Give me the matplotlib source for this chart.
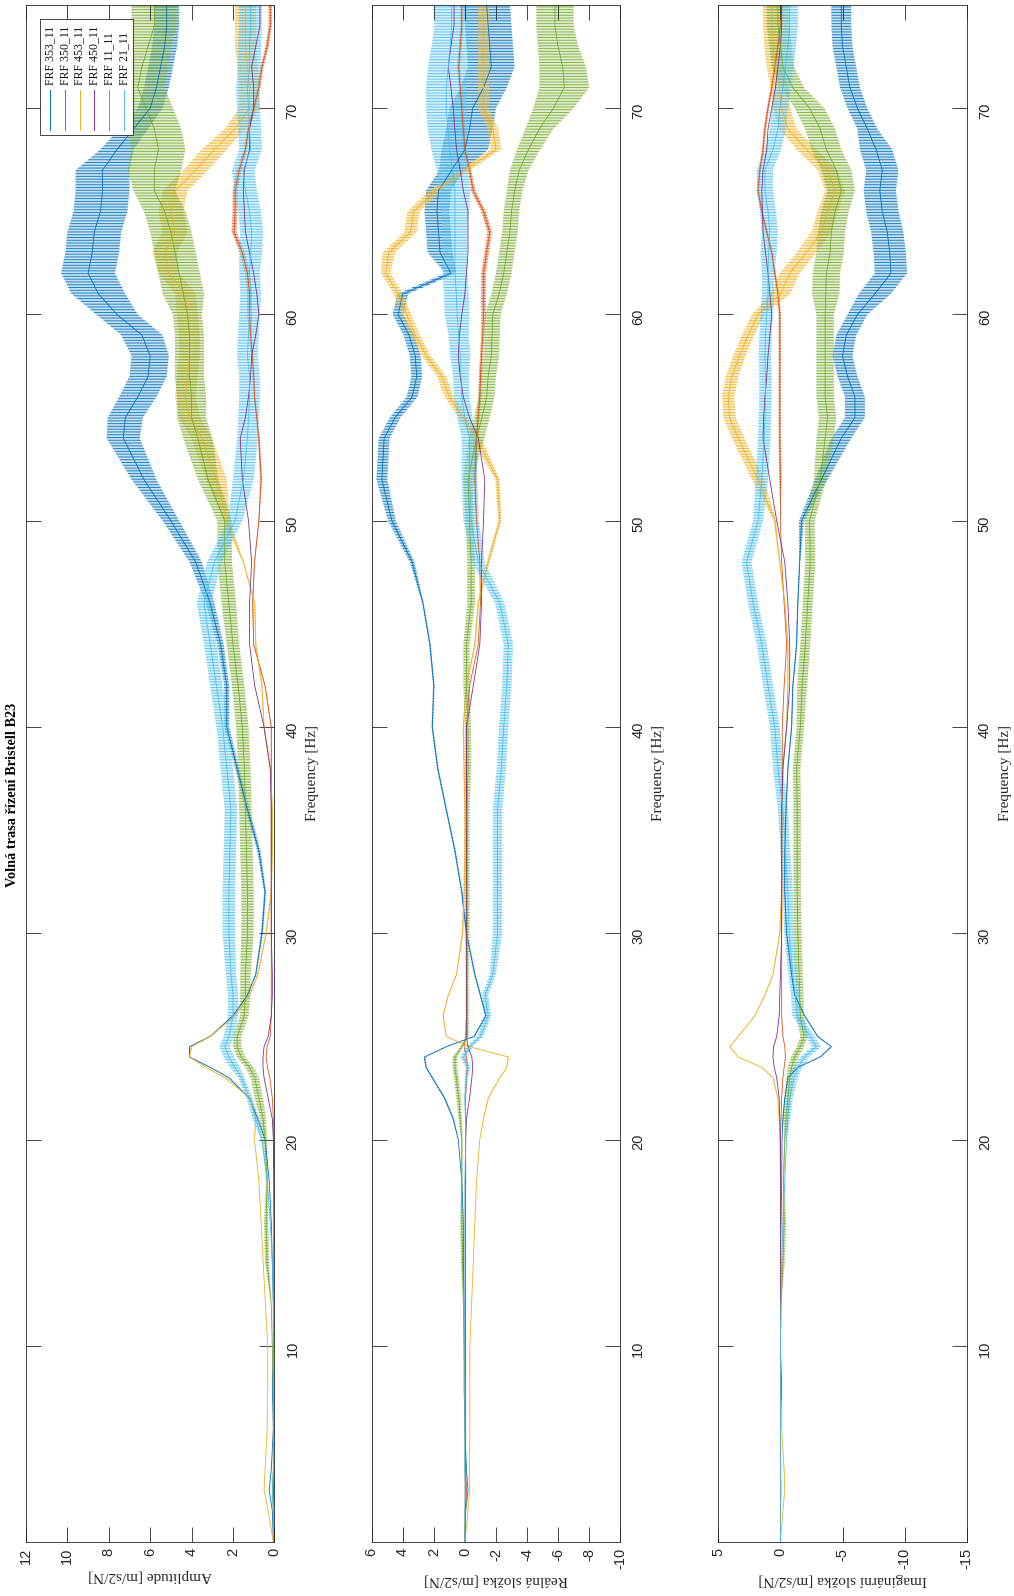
import numpy as np
import matplotlib
matplotlib.use("Agg")
import matplotlib.pyplot as plt
from matplotlib.colors import to_rgba
from matplotlib.patches import Rectangle

plt.rcParams["axes.unicode_minus"] = False
plt.rcParams["hatch.linewidth"] = 0.7

# ---------------------------------------------------------------- data
freq = [0.5, 2, 3, 4, 6, 8, 10, 12, 14, 16, 18, 20,
        21, 22, 23, 23.5, 24, 24.5, 25, 26, 27, 28,
        30, 32, 34, 36, 38, 40, 42, 44, 46, 48, 50,
        52, 54, 55, 56, 57, 58, 59, 60, 61, 62, 63, 64, 65, 66, 67, 68, 69, 70, 71, 72, 73, 74, 75]

series_names = ["FRF 353_11", "FRF 350_11", "FRF 453_11", "FRF 450_11", "FRF 11_11", "FRF 21_11"]
series_colors = ["#0072BD", "#D95319", "#EDB120", "#7E2F8E", "#77AC30", "#4DBEEE"]

# amplitude [m/s2/N]
amp_353 = [0.05, 0.1, 0.25, 0.15, 0.05, 0.1, 0.05, 0.05, 0.1, 0.15, 0.25, 0.45,
           0.8, 1.2, 2.2, 3.1, 4.1, 4.1, 3.1, 2.0, 1.3, 0.9,
           0.6, 0.45, 0.75, 1.3, 1.8, 2.3, 2.3, 2.6, 3.1, 3.8, 5.0,
           6.3, 7.3, 7.2, 6.6, 6.1, 6.0, 6.4, 7.6, 8.5, 9.0, 8.8, 8.7, 8.4, 8.3, 8.3, 7.6, 6.8, 6.0, 5.7, 5.5, 5.3, 5.2, 5.2]
amp_350 = [0.02, 0.02, 0.03, 0.02, 0.02, 0.02, 0.02, 0.02, 0.02, 0.02, 0.02, 0.03,
           0.05, 0.1, 0.22, 0.33, 0.4, 0.35, 0.2, 0.15, 0.15, 0.15,
           0.15, 0.15, 0.15, 0.15, 0.15, 0.15, 0.45, 1.0, 1.05, 0.96, 0.75,
           0.64, 0.75, 0.85, 0.96, 1.0, 1.07, 1.15, 1.2, 1.2, 1.3, 1.55, 1.95, 1.9, 1.9, 1.7, 1.4, 1.25, 1.0, 0.75, 0.6, 0.35, 0.2, 0.2]
amp_453 = [0.05, 0.3, 0.5, 0.45, 0.35, 0.32, 0.32, 0.43, 0.54, 0.64, 0.75, 0.96,
           0.9, 1.15, 2.4, 3.3, 4.1, 4.0, 3.1, 1.9, 1.2, 0.8,
           0.4, 0.15, 0.1, 0.1, 0.2, 0.5, 0.6, 0.9, 0.95, 1.5, 2.3,
           2.8, 3.5, 4.1, 4.3, 4.2, 4.1, 4.1, 4.2, 4.3, 5.1, 5.3, 4.8, 5.0, 4.8, 3.8, 2.9, 1.9, 1.2, 1.2, 1.3, 1.4, 1.4, 1.4]
amp_450 = [0.02, 0.02, 0.03, 0.02, 0.02, 0.02, 0.02, 0.02, 0.02, 0.02, 0.03, 0.05,
           0.1, 0.3, 0.5, 0.55, 0.55, 0.5, 0.3, 0.15, 0.1, 0.1,
           0.15, 0.15, 0.15, 0.15, 0.2, 0.5, 0.95, 1.2, 1.2, 1.1, 1.25,
           1.55, 1.65, 1.4, 1.25, 1.15, 1.1, 0.9, 0.75, 0.85, 1.0, 1.2, 1.4, 1.45, 1.5, 1.45, 1.2, 1.2, 1.0, 1.0, 1.1, 0.9, 0.7, 0.7]
amp_11 = [0.02, 0.05, 0.1, 0.05, 0.05, 0.05, 0.1, 0.15, 0.35, 0.4, 0.35, 0.45,
          0.55, 0.75, 0.95, 1.2, 1.6, 1.8, 1.8, 1.45, 1.4, 1.4,
          1.3, 1.3, 1.35, 1.4, 1.45, 1.55, 1.75, 2.0, 2.2, 2.4, 2.4,
          3.2, 3.7, 4.0, 4.0, 4.1, 4.1, 4.1, 4.2, 4.4, 4.6, 4.8, 5.0, 5.3, 5.8, 5.8, 5.6, 5.8, 6.2, 6.6, 6.4, 6.1, 5.8, 5.8]
amp_21 = [0.02, 0.05, 0.1, 0.05, 0.05, 0.05, 0.05, 0.05, 0.1, 0.2, 0.35, 0.6,
          0.9, 1.2, 1.6, 1.9, 2.2, 2.4, 2.2, 2.0, 2.0, 2.1,
          2.2, 2.2, 2.15, 2.1, 2.3, 2.5, 2.8, 3.1, 3.4, 2.9, 1.9,
          1.5, 1.3, 1.25, 1.2, 1.2, 1.3, 1.25, 1.2, 1.15, 1.2, 1.15, 1.1, 1.2, 1.4, 1.5, 1.15, 1.2, 1.25, 1.3, 1.2, 1.2, 1.15, 1.15]

# real part [m/s2/N]
re_353 = [0.0, -0.05, -0.2, -0.1, 0.0, 0.05, 0.05, 0.05, 0.1, 0.1, 0.2, 0.43,
          0.75, 1.3, 2.1, 2.5, 2.6, 1.2, -0.6, -1.35, -1.0, -0.64,
          -0.1, 0.2, 0.64, 1.2, 1.75, 2.1, 2.0, 2.25, 2.7, 3.4, 4.7,
          5.35, 5.2, 4.5, 3.4, 3.1, 3.2, 3.6, 4.3, 4.0, 0.9, 1.6, 1.7, 1.8, 1.7, 0.85, 0.0, -0.3, -0.5, -1.2, -1.7, -1.6, -1.5, -1.4]
re_350 = [0.0, -0.05, -0.1, -0.05, -0.03, -0.03, -0.03, -0.03, -0.03, -0.03, -0.03, -0.05,
          -0.05, -0.05, -0.1, -0.15, -0.1, 0.05, -0.05, -0.1, -0.1, -0.1,
          -0.1, -0.1, -0.1, -0.1, -0.1, -0.1, -0.3, -0.86, -1.0, -0.96, -0.75,
          -0.64, -0.75, -0.85, -0.96, -1.0, -1.07, -1.15, -1.2, -1.2, -1.2, -1.4, -1.6, -1.2, -0.54, -0.3, 0.0, 0.1, 0.2, 0.3, 0.4, 0.3, 0.2, 0.2]
re_453 = [0.0, -0.2, -0.3, -0.3, -0.32, -0.32, -0.32, -0.43, -0.54, -0.64, -0.75, -0.96,
          -1.2, -1.5, -2.25, -2.7, -2.8, -0.3, 1.2, 1.4, 1.07, 0.54,
          0.15, 0.05, 0.0, 0.0, 0.05, 0.1, -0.1, -0.64, -0.86, -1.5, -2.25,
          -2.1, -0.75, 0.1, 1.0, 1.5, 2.5, 3.2, 3.75, 4.3, 5.1, 4.9, 3.5, 3.3, 1.9, 0.0, -2.0, -1.8, -1.2, -1.2, -1.2, -1.2, -1.2, -1.2]
re_450 = [0.0, -0.03, -0.05, -0.03, -0.03, -0.03, -0.03, -0.03, -0.03, -0.03, -0.05, -0.05,
          -0.1, -0.3, -0.45, -0.5, -0.45, -0.2, -0.1, -0.1, -0.1, -0.1,
          -0.1, -0.1, -0.1, -0.1, -0.1, -0.1, -0.54, -0.96, -1.07, -1.07, -1.2,
          -1.28, -0.86, -0.3, 0.1, 0.3, 0.43, 0.35, 0.2, 0.0, -0.1, -0.2, -0.2, -0.2, 0.1, 0.3, 0.54, 0.65, 0.75, 0.9, 1.07, 0.9, 0.7, 0.7]
re_11 = [0.0, 0.0, -0.05, 0.0, 0.0, 0.0, 0.05, 0.1, 0.15, 0.2, 0.2, 0.2,
         0.3, 0.4, 0.55, 0.64, 0.64, 0.2, -0.15, -0.15, -0.15, -0.15,
         -0.15, -0.15, -0.15, -0.15, -0.2, -0.2, -0.1, -0.1, -0.4, -0.4, -0.3,
         -0.2, -0.75, -1.1, -1.4, -1.5, -1.7, -1.75, -1.8, -2.2, -2.5, -2.7, -2.9, -3.0, -3.2, -3.5, -4.1, -4.8, -5.7, -6.4, -6.3, -6.0, -5.8, -5.8]
re_21 = [0.0, 0.0, 0.0, 0.0, 0.0, 0.0, 0.0, 0.0, 0.0, 0.0, 0.0, -0.05,
         -0.05, 0.0, -0.1, -0.2, 0.1, -0.3, -1.0, -1.5, -1.3, -1.8,
         -2.1, -2.1, -2.1, -2.1, -2.35, -2.5, -2.7, -2.8, -2.25, -0.86, -0.4,
         -0.3, -0.3, 0.0, 0.2, 0.25, 0.3, 0.4, 0.5, 0.55, 0.64, 0.64, 0.64, 0.64, 0.64, 0.8, 0.96, 1.1, 1.2, 1.2, 1.07, 0.95, 0.86, 0.86]

# imaginary part [m/s2/N]
im_353 = [0.0, 0.0, 0.0, 0.0, 0.0, -0.1, 0.0, 0.0, 0.0, -0.05, -0.1, -0.13,
          -0.2, -0.35, -0.6, -1.4, -3.2, -4.1, -3.0, -1.95, -1.15, -0.9,
          -0.5, -0.35, -0.35, -0.45, -0.6, -0.9, -1.0, -1.3, -1.4, -1.55, -1.7,
          -3.3, -4.9, -6.0, -6.0, -5.4, -5.0, -5.3, -6.2, -7.6, -8.9, -8.8, -8.6, -8.2, -8.0, -8.2, -7.7, -7.0, -6.2, -5.6, -5.3, -5.0, -4.9, -4.9]
im_350 = [0.0, 0.0, 0.0, 0.0, 0.0, 0.0, 0.0, 0.0, 0.0, 0.0, 0.0, 0.0,
          -0.05, -0.1, -0.2, -0.3, -0.4, -0.35, -0.2, -0.1, -0.1, -0.1,
          -0.1, -0.12, -0.12, -0.12, -0.15, -0.15, -0.3, -0.5, -0.3, -0.1, 0.0,
          0.0, 0.05, 0.05, 0.05, 0.05, 0.05, 0.05, 0.05, 0.2, 0.45, 0.7, 1.1, 1.5, 1.8, 1.66, 1.4, 1.25, 1.0, 0.7, 0.45, 0.2, 0.0, -0.1]
im_453 = [0.0, -0.2, -0.35, -0.3, -0.1, 0.0, 0.0, 0.0, 0.0, 0.0, 0.0, 0.05,
          0.1, 0.2, 0.6, 1.5, 3.4, 4.07, 3.4, 2.06, 1.25, 0.6,
          0.05, -0.1, -0.1, -0.1, -0.2, -0.5, -0.6, -0.6, -0.35, 0.05, 0.45,
          1.8, 3.4, 4.1, 4.2, 3.9, 3.3, 2.6, 1.8, 0.0, -0.75, -2.1, -3.3, -3.8, -4.4, -3.8, -2.1, -0.6, -0.1, 0.1, 0.4, 0.6, 0.7, 0.7]
im_450 = [0.0, 0.0, 0.0, 0.0, 0.0, 0.0, 0.0, 0.0, 0.0, 0.0, 0.0, 0.0,
          0.05, 0.1, 0.3, 0.5, 0.6, 0.55, 0.3, 0.1, 0.05, 0.0,
          -0.1, -0.1, -0.1, -0.1, -0.2, -0.5, -0.75, -0.75, -0.6, -0.35, 0.3,
          0.86, 1.4, 1.35, 1.25, 1.1, 1.0, 0.85, 0.7, 0.85, 1.0, 1.2, 1.4, 1.45, 1.5, 1.4, 1.1, 1.0, 0.7, 0.4, 0.2, 0.0, -0.1, -0.1]
im_11 = [0.0, 0.0, -0.05, 0.0, 0.0, 0.0, 0.0, -0.05, -0.2, -0.3, -0.25, -0.35,
         -0.45, -0.6, -0.75, -0.9, -1.15, -1.6, -1.9, -1.6, -1.55, -1.5,
         -1.4, -1.35, -1.35, -1.35, -1.3, -1.6, -1.75, -2.0, -2.2, -2.4, -2.35,
         -3.2, -3.6, -3.8, -3.6, -3.6, -3.6, -3.6, -3.6, -3.65, -3.7, -4.0, -4.1, -4.4, -4.9, -4.5, -3.7, -3.2, -2.35, -1.0, -0.2, 0.0, 0.2, 0.2]
im_21 = [0.0, 0.0, 0.0, 0.0, 0.0, 0.0, 0.0, -0.05, -0.1, -0.2, -0.35, -0.5,
         -0.6, -0.75, -1.1, -1.4, -1.95, -2.9, -2.4, -1.3, -1.2, -1.0,
         -0.7, -0.6, -0.4, -0.2, 0.2, 0.45, 1.0, 1.5, 2.2, 2.73, 1.8,
         1.5, 1.3, 1.25, 1.2, 1.2, 1.25, 1.2, 1.1, 1.0, 1.0, 0.95, 0.86, 1.0, 1.25, 1.25, 0.6, 0.2, 0.05, -0.2, -0.4, -0.6, -0.75, -0.75]

# half spread of the fast ripple around each trace
amp_353_rip = [0]*12 + [0.03]*10 + [0.05, 0.05, 0.08, 0.1, 0.1, 0.12, 0.12, 0.15, 0.2, 0.3, 0.4] + \
              [0.6, 0.8, 0.85, 0.9, 0.9, 0.9, 1.0, 1.0, 1.3, 1.3, 1.3, 1.3, 1.3, 1.3, 1.3, 0.8, 0.7, 0.6, 0.6, 0.6, 0.6, 0.6, 0.6]
amp_350_rip = [0]*22 + [0.02]*11 + [0.05]*7 + [0.12]*8 + [0.08]*8
amp_453_rip = [0]*12 + [0.03]*10 + [0.03]*10 + [0.15] + [0.5]*10 + [0.6]*6 + [0.5]*7
amp_450_rip = [0]*56
amp_11_rip = [0]*8 + [0.1, 0.1, 0.05, 0.1] + [0.15, 0.2, 0.2, 0.2, 0.2, 0.2, 0.2, 0.2, 0.25, 0.25] + \
             [0.3]*8 + [0.35]*3 + [0.5, 0.7, 0.7, 0.7, 0.7, 0.7, 0.7, 0.7, 1.0, 1.0, 1.0, 1.0, 1.0, 1.0, 1.3, 1.3, 1.3, 1.3, 1.3, 1.3, 1.1, 1.1, 1.1]
amp_21_rip = [0]*11 + [0.05] + [0.15, 0.15, 0.15, 0.25, 0.25, 0.25, 0.25, 0.25, 0.25, 0.25] + \
             [0.3]*8 + [0.35]*3 + [0.5]*10 + [0.55]*13

re_353_rip = [0]*12 + [0.05]*10 + [0.05]*9 + [0.15, 0.25] + \
             [0.35]*10 + [0.8]*5 + [1.5]*8
re_350_rip = [0]*33 + [0.1]*7 + [0.15]*7 + [0.1]*9
re_453_rip = [0]*12 + [0.03]*10 + [0.05]*9 + [0.1, 0.1] + [0.15] + [0.3]*9 + [0.4]*4 + [0.35]*9
re_450_rip = [0]*56
re_11_rip = [0]*8 + [0.1, 0.1, 0.05, 0.05] + [0.1, 0.15, 0.15, 0.15, 0.15, 0.1, 0.1, 0.1, 0.1, 0.1] + \
            [0.15, 0.15, 0.15, 0.15, 0.2, 0.2, 0.2, 0.2, 0.25, 0.25, 0.25] + \
            [0.3, 0.5, 0.5, 0.5, 0.5, 0.5, 0.5, 0.5, 0.5, 0.5, 0.5, 0.5, 0.5, 0.5, 0.6, 0.75, 0.9, 1.3, 1.6, 1.5, 1.3, 1.2, 1.2]
re_21_rip = [0]*12 + [0.05, 0.05, 0.1, 0.15, 0.2, 0.2, 0.2, 0.2, 0.2, 0.2] + \
            [0.3]*9 + [0.4, 0.5] + [0.5]*5 + [0.65, 0.65, 0.8, 0.8, 0.8, 0.8, 0.8, 0.9, 1.0, 1.0] + \
            [1.2, 1.3, 1.3, 1.3, 1.3, 1.2, 1.1, 1.1]

im_353_rip = [0]*12 + [0.05]*10 + [0.05]*10 + [0.2] + \
             [0.5, 0.8, 0.8, 0.8, 0.8, 0.8, 0.8, 0.8, 1.3, 1.3, 1.3, 1.3, 1.3, 1.3, 1.3, 1.3, 0.8, 0.8, 0.8, 0.8, 0.8, 0.8, 0.8]
im_350_rip = [0]*33 + [0.1]*23
im_453_rip = [0]*12 + [0.03]*10 + [0.05]*10 + [0.1] + [0.5]*8 + [0.8]*8 + [0.7]*7
im_450_rip = [0]*56
im_11_rip = [0]*8 + [0.15, 0.15, 0.05, 0.05] + [0.2, 0.2, 0.25, 0.3, 0.3, 0.3, 0.3, 0.3, 0.3, 0.3] + \
            [0.3]*6 + [0.4]*5 + [0.5] + [0.7]*7 + [1.1]*6 + [1.2]*4 + [0.9]*5
im_21_rip = [0]*12 + [0.2, 0.25, 0.3, 0.35, 0.35, 0.35, 0.35, 0.35, 0.35, 0.35] + \
            [0.4]*11 + [0.5]*10 + [0.65]*13

# ---------------------------------------------------------------- panels
panels = [
    dict(label="Amplitude [m/s2/N]", xlim=(12, 0), xticks=[0, 2, 4, 6, 8, 10, 12],
         values=[amp_353, amp_350, amp_453, amp_450, amp_11, amp_21],
         ripple=[amp_353_rip, amp_350_rip, amp_453_rip, amp_450_rip, amp_11_rip, amp_21_rip]),
    dict(label="Reálná složka [m/s2/N]", xlim=(6, -10), xticks=[-10, -8, -6, -4, -2, 0, 2, 4, 6],
         values=[re_353, re_350, re_453, re_450, re_11, re_21],
         ripple=[re_353_rip, re_350_rip, re_453_rip, re_450_rip, re_11_rip, re_21_rip]),
    dict(label="Imaginární složka [m/s2/N]", xlim=(5, -15), xticks=[-15, -10, -5, 0, 5],
         values=[im_353, im_350, im_453, im_450, im_11, im_21],
         ripple=[im_353_rip, im_350_rip, im_453_rip, im_450_rip, im_11_rip, im_21_rip]),
]

SERIF = ["Liberation Serif", "DejaVu Serif"]
SANS = ["Liberation Sans", "DejaVu Sans"]
EDGE = "#262626"

fig = plt.figure(figsize=(10.14, 15.96), dpi=100)
lefts = [0.0256, 0.3666, 0.7084]
width = 0.2450
bottom, height = 0.0340, 0.9628

f = np.array(freq)
axes = []
for left, p in zip(lefts, panels):
    ax = fig.add_axes([left, bottom, width, height])
    axes.append(ax)
    for vals, rip, col in zip(p["values"], p["ripple"], series_colors):
        v = np.array(vals)
        r = np.array(rip)
        if r.max() > 0:
            # the fast ripple shows up as dense strokes across the band
            ax.fill_betweenx(f, v - r, v + r, facecolor=to_rgba(col, 0.22),
                             edgecolor=to_rgba(col, 0.85), hatch="------", lw=0)
        ax.plot(v, f, color=col, lw=0.6)
    ax.set_xlim(*p["xlim"])
    ax.set_ylim(0.5, 75)
    ax.set_xticks(p["xticks"])
    ax.set_yticks([10, 20, 30, 40, 50, 60, 70])
    ax.yaxis.tick_right()
    ax.yaxis.set_label_position("right")
    ax.tick_params(axis="both", direction="in", length=11, width=0.6, color=EDGE,
                   top=True, bottom=True, left=True, right=True)
    ax.tick_params(axis="x", labelrotation=90, pad=4.5, labelsize=10.5)
    ax.tick_params(axis="y", labelrotation=90, pad=8, labelsize=10.5,
                   labelleft=False, labelright=True)
    for lab in ax.get_xticklabels() + ax.get_yticklabels():
        lab.set_family(SANS)
        lab.set_color(EDGE)
    for s in ax.spines.values():
        s.set_color(EDGE)
        s.set_linewidth(0.6)
    ax.set_xlabel(p["label"], family=SERIF, fontsize=11, rotation=180, labelpad=3, color=EDGE)
    ax.set_ylabel("Frequency [Hz]", family=SERIF, fontsize=11, rotation=90, labelpad=5, color=EDGE)

# legend box in the first panel (upper left corner), entries drawn sideways
ax0 = axes[0]
ax0.add_patch(Rectangle((0.0565, 0.9154), 0.3745, 0.0755, transform=ax0.transAxes,
                        facecolor="white", edgecolor=EDGE, lw=0.6, zorder=5))
entry_x = np.linspace(0.0968, 0.395, len(series_names))
for xe, name, col in zip(entry_x, series_names, series_colors):
    ax0.plot([xe, xe], [0.9187, 0.9447], transform=ax0.transAxes, color=col, lw=0.7, zorder=6)
    ax0.text(xe, 0.9480, name, transform=ax0.transAxes, rotation=90, ha="center", va="bottom",
             family=SERIF, fontsize=8.5, color="#111111", zorder=6)

fig.text(0.0128, 0.502, "Volná trasa řízení Bristell B23", rotation=90,
         ha="center", va="center", family=SERIF, fontsize=10.3, fontweight="bold")

fig.savefig("out.png", dpi=100)
